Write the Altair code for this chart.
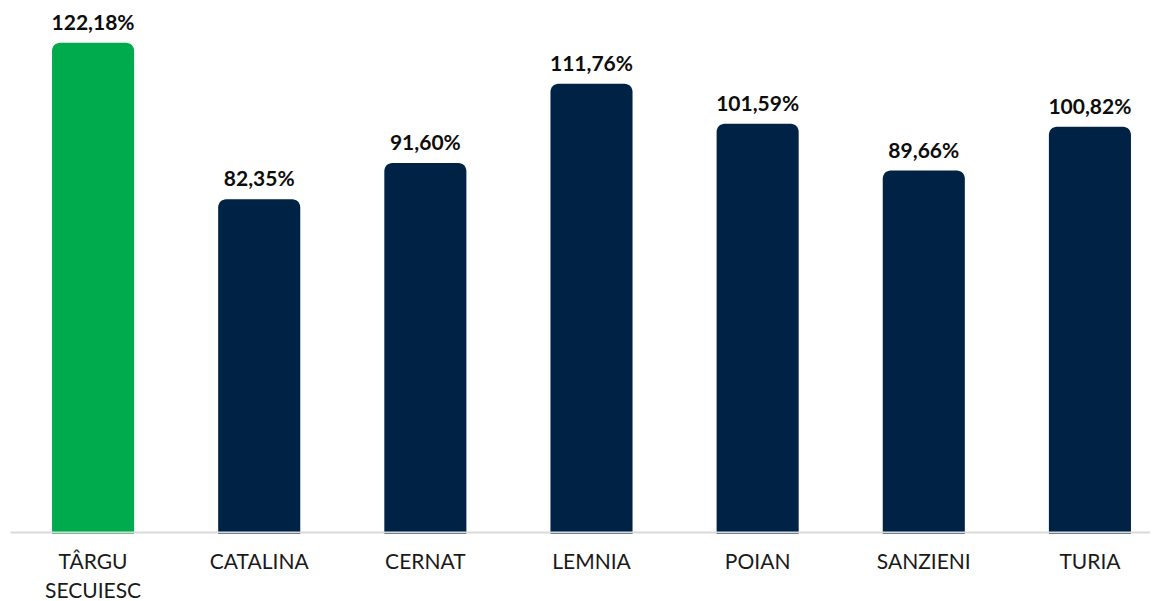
import altair as alt
import pandas as pd

categories = ["TÂRGU SECUIESC", "CATALINA", "CERNAT", "LEMNIA", "POIAN", "SANZIENI", "TURIA"]
values = [122.18, 82.35, 91.60, 111.76, 101.59, 89.66, 100.82]
highlight = [True, False, False, False, False, False, False]
y_min, y_max = -2.77, 130.5  # value axis range (axis baseline sits slightly below zero)

df = pd.DataFrame({
    "cat": categories,
    "val": values,
    "hl": highlight,
    "label": [f"{v:.2f}".replace(".", ",") + "%" for v in values],
})

W, H = 1140, 524
XR = 1163  # band range extends beyond the visible area (reference is cropped on the right)

x = alt.X("cat:N", sort=categories, title=None,
          scale=alt.Scale(paddingInner=0.506, paddingOuter=0.253, range=[0, XR]),
          axis=alt.Axis(labelExpr="split(datum.label, ' ')", labelAngle=0,
                        labelFont="Lato", labelFontSize=21, labelColor="#1a1a1a",
                        labelPadding=19, labelLineHeight=29, ticks=False,
                        domainColor="#d9d9d9", domainWidth=2, offset=-2, zindex=1,
                        labelBaseline="top"))
y = alt.Y("val:Q", scale=alt.Scale(domain=[y_min, y_max], nice=False, zero=False), axis=None)

bars = alt.Chart(df).mark_bar(cornerRadiusTopLeft=8, cornerRadiusTopRight=8).encode(
    x=x, y=y, y2=alt.Y2(datum=y_min),
    color=alt.Color("hl:N", scale=alt.Scale(domain=[True, False], range=["#00AB4E", "#002245"]), legend=None),
)
text = alt.Chart(df).mark_text(font="Lato", fontSize=21, fontWeight="bold", baseline="bottom",
                               dy=-9, color="#0d0d0d").encode(
    x=alt.X("cat:N", sort=categories), y=y, text="label:N")

chart = (bars + text).properties(
    width=W, height=H,
    background="white",
    autosize=alt.AutoSizeParams(type="none"),
    padding={"left": 2, "top": 2, "right": 0, "bottom": 67},
).configure_view(stroke="transparent", strokeWidth=0)

chart.save("out.html", embed_options={"renderer": "svg", "actions": False})
